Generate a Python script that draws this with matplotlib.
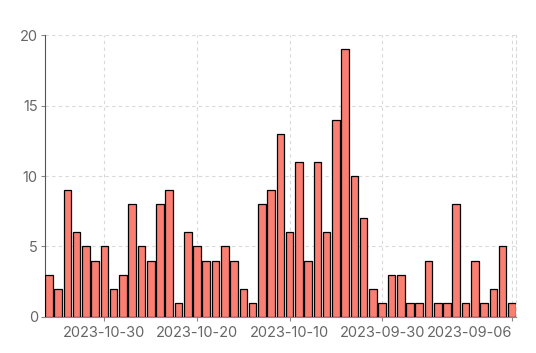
import matplotlib
matplotlib.use("Agg")
import matplotlib.pyplot as plt
import numpy as np

dates = (
    ["2023-11-%02d" % d for d in range(5, 0, -1)]
    + ["2023-10-%02d" % d for d in range(31, 0, -1)]
    + ["2023-09-30", "2023-09-29", "2023-09-27", "2023-09-26", "2023-09-24",
       "2023-09-22", "2023-09-20", "2023-09-19", "2023-09-17", "2023-09-15",
       "2023-09-13", "2023-09-11", "2023-09-09", "2023-09-08", "2023-09-06"]
)
counts = [3, 2, 9, 6, 5, 4, 5, 2, 3, 8,
          5, 4, 8, 9, 1, 6, 5, 4, 4, 5,
          4, 2, 1, 8, 9, 13, 6, 11, 4, 11,
          6, 14, 19, 10, 7, 2, 1, 3, 3, 1,
          1, 4, 1, 1, 8, 1, 4, 1, 2, 5, 1]
tick_labels = ["2023-10-30", "2023-10-20", "2023-10-10", "2023-09-30", "2023-09-06"]
y_ticks = [0, 5, 10, 15, 20]

plt.rcParams['font.family'] = ['Inter', 'DejaVu Sans']

fig = plt.figure(figsize=(5.36, 3.53), dpi=100)
ax = fig.add_axes([0.0834, 0.102, 0.8793, 0.7988])

x = np.arange(len(counts))
ax.bar(x, counts, width=0.82, color="#fa7f72", edgecolor="black", linewidth=0.9, zorder=3)

tick_pos = [dates.index(t) for t in tick_labels]
ax.set_xticks(tick_pos)
ax.set_xticklabels(tick_labels)
ax.get_xticklabels()[-1].set_horizontalalignment("right")
ax.set_yticks(y_ticks)
ax.set_xlim(-0.45, len(counts) - 0.55)
ax.set_ylim(0, 20)

ax.grid(True, linestyle=(0, (3, 3)), color="#d9d9d9", linewidth=0.8, zorder=0)
ax.spines["top"].set_visible(False)
ax.spines["right"].set_linestyle((0, (3, 3)))
ax.spines["right"].set_color("#d9d9d9")
ax.spines["right"].set_linewidth(0.8)
ax.spines["left"].set_color("#555555")
ax.spines["bottom"].set_color("#888888")
ax.tick_params(axis="both", colors="#888888", labelcolor="#666666", labelsize=10.5, length=3, width=0.8)
ax.tick_params(axis="y", pad=2)

fig.savefig("out.png", dpi=100)
